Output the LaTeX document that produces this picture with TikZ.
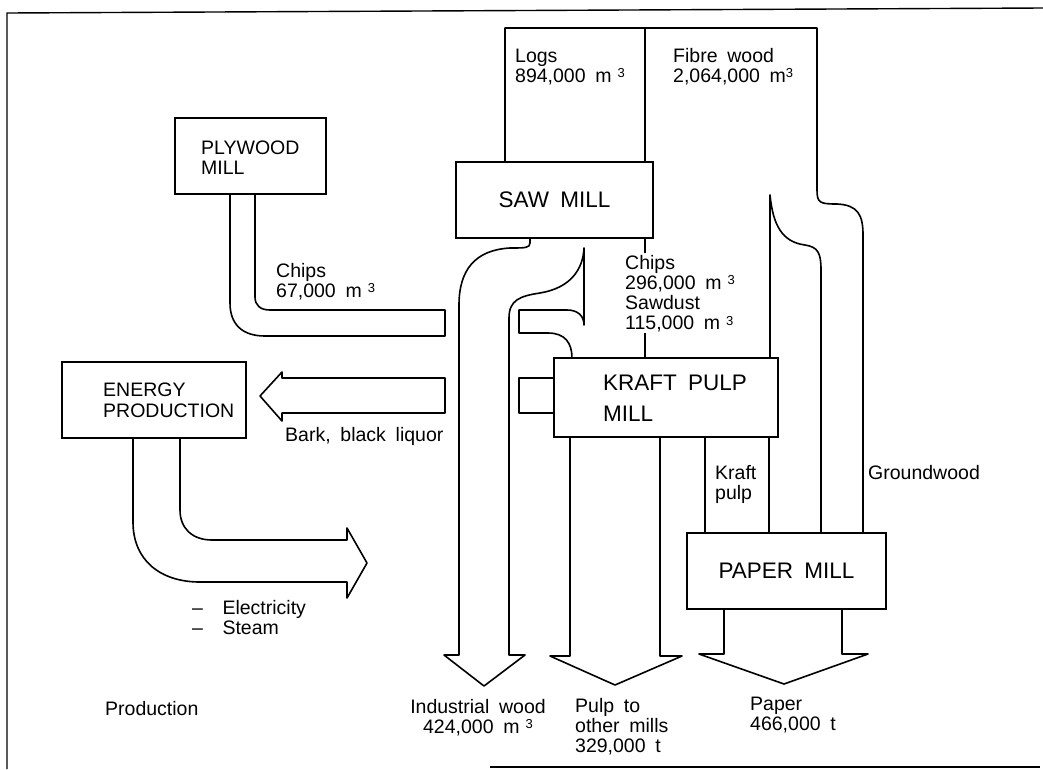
\documentclass[tikz,border=0pt]{standalone}
\usepackage{fontspec}
\setmainfont{Liberation Sans}[WordSpace=1.8]
\newcommand{\cubic}{\raisebox{4.5pt}{\fontsize{13}{13}\selectfont 3}}
\begin{document}
\begin{tikzpicture}[x=1pt,y=-1pt,
  ln/.style={line width=1.6pt, line join=round},
  box/.style={draw, line width=1.6pt, inner sep=0pt, rectangle},
  sm/.style={font=\fontsize{19.5}{20.3}\selectfont, inner sep=0pt, align=left, anchor=base west},
  lg/.style={font=\fontsize{22.5}{31}\selectfont, inner sep=0pt, align=left},
  frame/.style={line width=1.4pt}]
\useasboundingbox (0,0) rectangle (1043,769);
% frame
\draw[frame] (7,769) -- (7,13) -- (1043,8);
\draw[frame] (490,767) -- (1040,767);

% boxes
\node[box, minimum width=151pt, minimum height=76pt] (ply) at (250.5,156) {};
\node[box, minimum width=184pt, minimum height=76pt] (energy) at (154,400) {};
\node[box, lg, minimum width=197pt, minimum height=76pt] (saw) at (554.5,200) {SAW MILL};
\node[box, minimum width=224pt, minimum height=79pt] (kraft) at (666,397.5) {};
\node[box, lg, minimum width=199pt, minimum height=76pt] (paper) at (786.5,571) {PAPER MILL};

% box texts (base = baseline of last line)
\node[sm] (plytxt) at (201,174.3) {PLYWOOD\\MILL};
\node[sm] (entxt) at (103,417) {ENERGY\\PRODUCTION};
\node[lg, anchor=base west] (krtxt) at (603,421.5) {KRAFT PULP\\MILL};

% raw wood band
\draw[ln] (505,162) -- (505,28) -- (817,28) -- (817,190)
  .. controls (817,203) and (820,204) .. (837,204)
  .. controls (858,205) and (863,215) .. (863,235) -- (863,533);
\draw[ln] (645,28) -- (645,162);
\draw[ln] (645,238) -- (645,253);
\draw[ln] (645,333) -- (645,358);
% fibre wood split
\draw[ln] (770,358) -- (770,195)
  .. controls (773,225) and (782,242) .. (805,245)
  .. controls (818,247) and (821,253) .. (821,270) -- (821,533);

% industrial wood
\draw[ln] (530,238) -- (530,243) .. controls (530,248) and (525,248) .. (510,248)
  .. controls (475,250) and (459,270) .. (459,305) -- (459,655) -- (444,655)
  -- (484,686) -- (525,655) -- (509,655) -- (509,318)
  .. controls (509,300) and (520,296) .. (540,293)
  .. controls (570,288) and (583,270) .. (584,248)
  -- (584,325) .. controls (584,316) and (578,310) .. (567,310) -- (519,310)
  -- (519,333) -- (548,333) .. controls (565,333) and (572,343) .. (572,358);

% plywood chips
\draw[ln] (230,194) -- (230,303) .. controls (230,325) and (243,336) .. (265,336)
  -- (445,336) -- (445,310) -- (270,310) .. controls (260,310) and (255,305) .. (255,297) -- (255,194);

% bark arrow
\draw[ln] (445,378) -- (282,378) -- (282,372) -- (260,396) -- (282,421) -- (282,413) -- (445,413) -- cycle;
\draw[ln] (554,378) -- (519,378) -- (519,413) -- (554,413);

% energy output arrow
\draw[ln] (133,438) -- (133,522) .. controls (133,560) and (160,582) .. (200,582)
  -- (347,582) -- (347,598) -- (367,563) -- (347,528) -- (347,540) -- (212,540)
  .. controls (192,540) and (180,528) .. (180,510) -- (180,438);

% pulp to other mills
\draw[ln] (570,437) -- (570,656) -- (550,656) -- (615,685) -- (682,656) -- (660,656) -- (660,437);
% kraft pulp to paper
\draw[ln] (705,437) -- (705,533);
\draw[ln] (769,437) -- (769,533);
% paper arrow
\draw[ln] (724,609) -- (724,654) -- (699,654) -- (784,684) -- (868,654) -- (842,654) -- (842,609);

% labels (base = baseline of last line)
\node[sm] (logs) at (515,82.3) {Logs\\894,000 m\hspace{6pt}\cubic};
\node[sm] (fibre) at (673,82.3) {Fibre wood\\2,064,000 m\cubic};
\node[sm] (chipsply) at (276,297.3) {Chips\\67,000 m\hspace{6pt}\cubic};
\node[sm] (chipssaw) at (625,329.9) {Chips\\296,000 m\hspace{6pt}\cubic\\Sawdust\\115,000 m\hspace{6pt}\cubic};
\node[sm] (bark) at (285,441) {Bark, black liquor};
\node[sm] (kpulp) at (715,499.3) {Kraft\\pulp};
\node[sm] (ground) at (868,479) {Groundwood};
\node[sm] (elec) at (192,634.3) {–\ \ Electricity\\–\ \ Steam};
\node[sm] (prod) at (105,715) {Production};
\node[sm, align=center, anchor=base] (ind) at (478,733.3) {Industrial wood\\424,000 m\hspace{6pt}\cubic};
\node[sm] (pulpo) at (575,752.6) {Pulp to\\other mills\\329,000 t};
\node[sm] (paperout) at (750,730.3) {Paper\\466,000 t};
\end{tikzpicture}
\end{document}
